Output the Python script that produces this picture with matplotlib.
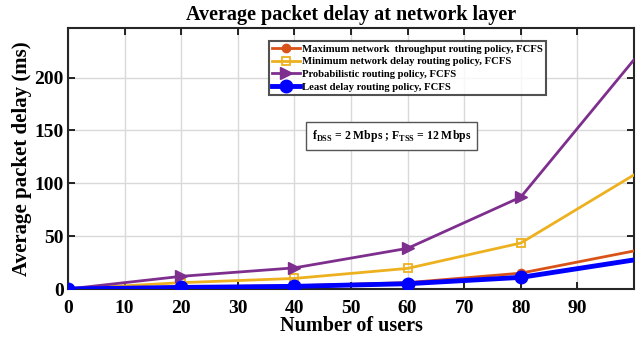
import matplotlib
matplotlib.use("Agg")
import matplotlib.pyplot as plt

users = [0, 20, 40, 60, 80, 100]
max_thr = [0, 2, 3, 6, 15, 36]
min_delay = [0, 6, 10, 19.5, 43.5, 108]
prob = [0, 12, 20, 38.5, 87, 217]
least = [0, 1.5, 2.5, 5, 11, 27.5]
labels = ["Maximum network  throughput routing policy, FCFS",
          "Minimum network delay routing policy, FCFS",
          "Probabilistic routing policy, FCFS",
          "Least delay routing policy, FCFS"]
xticks = [0, 10, 20, 30, 40, 50, 60, 70, 80, 90]
yticks = [0, 50, 100, 150, 200]

plt.rcParams['font.family'] = ['Liberation Serif', 'DejaVu Serif']
plt.rcParams['font.weight'] = 'bold'

fig = plt.figure(figsize=(6.42, 3.37), dpi=100)
ax = fig.add_axes([68/642, 1-289/337, (634-68)/642, (289-28)/337])

me = [0, 1, 2, 3, 4]
ax.plot(users, max_thr, color=(0.85, 0.325, 0.098), lw=2, marker='o', ms=6,
        markevery=me, label=labels[0], zorder=3)
ax.plot(users, min_delay, color=(0.929, 0.694, 0.125), lw=2, marker='s', ms=6,
        mfc='none', mew=1.3, markevery=me, label=labels[1], zorder=3)
ax.plot(users, prob, color=(0.494, 0.184, 0.556), lw=2, marker='>', ms=8,
        markevery=me, label=labels[2], zorder=3)
ax.plot(users, least, color=(0, 0, 1), lw=3.5, marker='o', ms=9,
        markevery=me, label=labels[3], zorder=4)

ax.set_xlim(0, 100)
ax.set_ylim(0, 247)
ax.set_xticks(xticks)
ax.set_yticks(yticks)
ax.grid(True, color='#d9d9d9', lw=1)
ax.set_axisbelow(True)
ax.tick_params(direction='in', top=True, right=True, labelsize=14, width=1.2, length=5, pad=3)
ax.tick_params(axis='x', pad=8)
for lab in ax.get_xticklabels() + ax.get_yticklabels():
    lab.set_fontweight('bold')
for s in ax.spines.values():
    s.set_linewidth(1.5)
    s.set_color('#262626')

ax.set_xlabel("Number of users", fontsize=14.5, fontweight='bold', labelpad=-1)
ax.set_ylabel("Average packet delay (ms)", fontsize=15, fontweight='bold', labelpad=2)
ax.set_title("Average packet delay at network layer", fontsize=14.5, fontweight='bold', pad=6)

leg = ax.legend(loc='upper left', bbox_to_anchor=((269-68)/566, 1-(41-28)/261),
                prop={'size': 7.7, 'weight': 'bold'}, frameon=True, fancybox=False,
                borderpad=0.3, labelspacing=0.3, handlelength=2.6, handletextpad=0.15,
                borderaxespad=0)
leg.get_frame().set_edgecolor('#262626')
leg.get_frame().set_linewidth(1.5)

ax.text((312-68)/566, 1-(136-28)/261,
        r"f$_{\mathregular{DSS}}$ = 2 Mbps ; F$_{\mathregular{TSS}}$ = 12 Mbps",
        transform=ax.transAxes, fontsize=8.5, fontweight='bold', va='center', ha='left',
        bbox=dict(boxstyle='square,pad=0.5', fc='white', ec='#555555', lw=1))

fig.savefig("out.png", dpi=100)
